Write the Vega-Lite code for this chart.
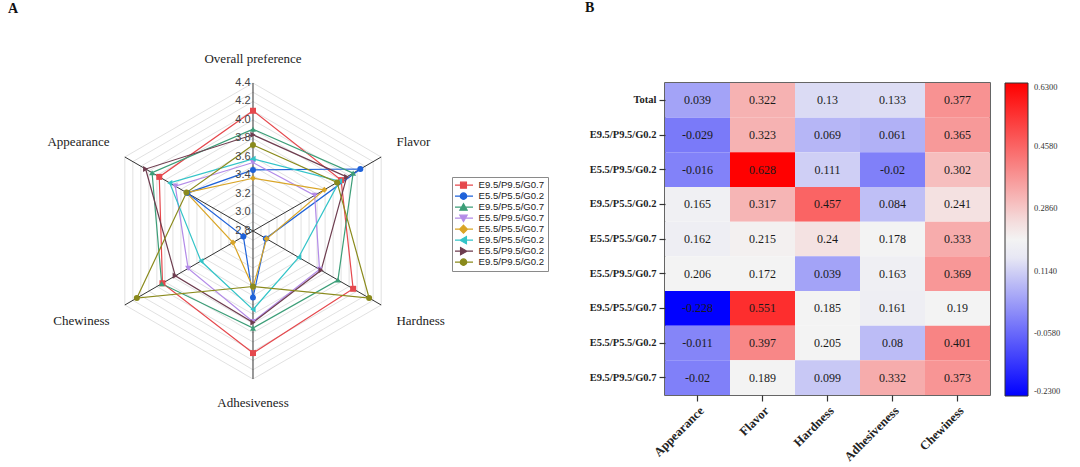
{
  "$schema": "https://vega.github.io/schema/vega-lite/v6.json",
  "padding": {"left": 0, "top": 0, "right": 5, "bottom": 5},
  "background": "white",
  "bounds": "flush",
  "spacing": 105,
  "config": {"view": {"stroke": null}, "font": "Liberation Serif"},
  "resolve": {"scale": {"color": "independent"}, "legend": {"color": "independent"}},
  "datasets": {
    "axes": [
      {"attr": "Overall preference"},
      {"attr": "Flavor"},
      {"attr": "Hardness"},
      {"attr": "Adhesiveness"},
      {"attr": "Chewiness"},
      {"attr": "Appearance"}
    ],
    "rings": [
      {"level": 2.9, "k": [0, 1, 2, 3, 4, 5]},
      {"level": 3.0, "k": [0, 1, 2, 3, 4, 5]},
      {"level": 3.1, "k": [0, 1, 2, 3, 4, 5]},
      {"level": 3.2, "k": [0, 1, 2, 3, 4, 5]},
      {"level": 3.3, "k": [0, 1, 2, 3, 4, 5]},
      {"level": 3.4, "k": [0, 1, 2, 3, 4, 5]},
      {"level": 3.5, "k": [0, 1, 2, 3, 4, 5]},
      {"level": 3.6, "k": [0, 1, 2, 3, 4, 5]},
      {"level": 3.7, "k": [0, 1, 2, 3, 4, 5]},
      {"level": 3.8, "k": [0, 1, 2, 3, 4, 5]},
      {"level": 3.9, "k": [0, 1, 2, 3, 4, 5]},
      {"level": 4.0, "k": [0, 1, 2, 3, 4, 5]},
      {"level": 4.1, "k": [0, 1, 2, 3, 4, 5]},
      {"level": 4.2, "k": [0, 1, 2, 3, 4, 5]},
      {"level": 4.3, "k": [0, 1, 2, 3, 4, 5]},
      {"level": 4.4, "k": [0, 1, 2, 3, 4, 5]}
    ],
    "ticks": [
      {"level": 2.8}, {"level": 3.0}, {"level": 3.2}, {"level": 3.4}, {"level": 3.6},
      {"level": 3.8}, {"level": 4.0}, {"level": 4.2}, {"level": 4.4}
    ],
    "series": [
      {"series": "E9.5/P9.5/G0.7", "attr": "Overall preference", "value": 4.10},
      {"series": "E9.5/P9.5/G0.7", "attr": "Flavor", "value": 3.90},
      {"series": "E9.5/P9.5/G0.7", "attr": "Hardness", "value": 4.05},
      {"series": "E9.5/P9.5/G0.7", "attr": "Adhesiveness", "value": 4.12},
      {"series": "E9.5/P9.5/G0.7", "attr": "Chewiness", "value": 3.93},
      {"series": "E9.5/P9.5/G0.7", "attr": "Appearance", "value": 3.97},
      {"series": "E5.5/P5.5/G0.2", "attr": "Overall preference", "value": 3.46},
      {"series": "E5.5/P5.5/G0.2", "attr": "Flavor", "value": 4.14},
      {"series": "E5.5/P5.5/G0.2", "attr": "Hardness", "value": 2.96},
      {"series": "E5.5/P5.5/G0.2", "attr": "Adhesiveness", "value": 3.52},
      {"series": "E5.5/P5.5/G0.2", "attr": "Chewiness", "value": 2.92},
      {"series": "E5.5/P5.5/G0.2", "attr": "Appearance", "value": 3.62},
      {"series": "E9.5/P5.5/G0.7", "attr": "Overall preference", "value": 3.90},
      {"series": "E9.5/P5.5/G0.7", "attr": "Flavor", "value": 4.05},
      {"series": "E9.5/P5.5/G0.7", "attr": "Hardness", "value": 3.86},
      {"series": "E9.5/P5.5/G0.7", "attr": "Adhesiveness", "value": 3.85},
      {"series": "E9.5/P5.5/G0.7", "attr": "Chewiness", "value": 3.94},
      {"series": "E9.5/P5.5/G0.7", "attr": "Appearance", "value": 4.06},
      {"series": "E5.5/P9.5/G0.7", "attr": "Overall preference", "value": 3.54},
      {"series": "E5.5/P9.5/G0.7", "attr": "Flavor", "value": 3.57},
      {"series": "E5.5/P9.5/G0.7", "attr": "Hardness", "value": 3.63},
      {"series": "E5.5/P9.5/G0.7", "attr": "Adhesiveness", "value": 3.78},
      {"series": "E5.5/P9.5/G0.7", "attr": "Chewiness", "value": 3.61},
      {"series": "E5.5/P9.5/G0.7", "attr": "Appearance", "value": 3.77},
      {"series": "E5.5/P5.5/G0.7", "attr": "Overall preference", "value": 3.37},
      {"series": "E5.5/P5.5/G0.7", "attr": "Flavor", "value": 3.69},
      {"series": "E5.5/P5.5/G0.7", "attr": "Hardness", "value": 2.97},
      {"series": "E5.5/P5.5/G0.7", "attr": "Adhesiveness", "value": 3.41},
      {"series": "E5.5/P5.5/G0.7", "attr": "Chewiness", "value": 3.05},
      {"series": "E5.5/P5.5/G0.7", "attr": "Appearance", "value": 3.63},
      {"series": "E9.5/P5.5/G0.2", "attr": "Overall preference", "value": 3.58},
      {"series": "E9.5/P5.5/G0.2", "attr": "Flavor", "value": 3.88},
      {"series": "E9.5/P5.5/G0.2", "attr": "Hardness", "value": 3.37},
      {"series": "E9.5/P5.5/G0.2", "attr": "Adhesiveness", "value": 3.65},
      {"series": "E9.5/P5.5/G0.2", "attr": "Chewiness", "value": 3.45},
      {"series": "E9.5/P5.5/G0.2", "attr": "Appearance", "value": 3.84},
      {"series": "E5.5/P9.5/G0.2", "attr": "Overall preference", "value": 3.84},
      {"series": "E5.5/P9.5/G0.2", "attr": "Flavor", "value": 3.97},
      {"series": "E5.5/P9.5/G0.2", "attr": "Hardness", "value": 3.65},
      {"series": "E5.5/P9.5/G0.2", "attr": "Adhesiveness", "value": 3.79},
      {"series": "E5.5/P9.5/G0.2", "attr": "Chewiness", "value": 3.77},
      {"series": "E5.5/P9.5/G0.2", "attr": "Appearance", "value": 4.14},
      {"series": "E9.5/P9.5/G0.2", "attr": "Overall preference", "value": 3.73},
      {"series": "E9.5/P9.5/G0.2", "attr": "Flavor", "value": 3.85},
      {"series": "E9.5/P9.5/G0.2", "attr": "Hardness", "value": 4.25},
      {"series": "E9.5/P9.5/G0.2", "attr": "Adhesiveness", "value": 3.40},
      {"series": "E9.5/P9.5/G0.2", "attr": "Chewiness", "value": 4.25},
      {"series": "E9.5/P9.5/G0.2", "attr": "Appearance", "value": 3.63}
    ],
    "heat": [
      {"group": "Total", "attr": "Appearance", "r": 0.039},
      {"group": "Total", "attr": "Flavor", "r": 0.322},
      {"group": "Total", "attr": "Hardness", "r": 0.13},
      {"group": "Total", "attr": "Adhesiveness", "r": 0.133},
      {"group": "Total", "attr": "Chewiness", "r": 0.377},
      {"group": "E9.5/P9.5/G0.2", "attr": "Appearance", "r": -0.029},
      {"group": "E9.5/P9.5/G0.2", "attr": "Flavor", "r": 0.323},
      {"group": "E9.5/P9.5/G0.2", "attr": "Hardness", "r": 0.069},
      {"group": "E9.5/P9.5/G0.2", "attr": "Adhesiveness", "r": 0.061},
      {"group": "E9.5/P9.5/G0.2", "attr": "Chewiness", "r": 0.365},
      {"group": "E5.5/P9.5/G0.2", "attr": "Appearance", "r": -0.016},
      {"group": "E5.5/P9.5/G0.2", "attr": "Flavor", "r": 0.628},
      {"group": "E5.5/P9.5/G0.2", "attr": "Hardness", "r": 0.111},
      {"group": "E5.5/P9.5/G0.2", "attr": "Adhesiveness", "r": -0.02},
      {"group": "E5.5/P9.5/G0.2", "attr": "Chewiness", "r": 0.302},
      {"group": "E9.5/P5.5/G0.2", "attr": "Appearance", "r": 0.165},
      {"group": "E9.5/P5.5/G0.2", "attr": "Flavor", "r": 0.317},
      {"group": "E9.5/P5.5/G0.2", "attr": "Hardness", "r": 0.457},
      {"group": "E9.5/P5.5/G0.2", "attr": "Adhesiveness", "r": 0.084},
      {"group": "E9.5/P5.5/G0.2", "attr": "Chewiness", "r": 0.241},
      {"group": "E5.5/P5.5/G0.7", "attr": "Appearance", "r": 0.162},
      {"group": "E5.5/P5.5/G0.7", "attr": "Flavor", "r": 0.215},
      {"group": "E5.5/P5.5/G0.7", "attr": "Hardness", "r": 0.24},
      {"group": "E5.5/P5.5/G0.7", "attr": "Adhesiveness", "r": 0.178},
      {"group": "E5.5/P5.5/G0.7", "attr": "Chewiness", "r": 0.333},
      {"group": "E5.5/P9.5/G0.7", "attr": "Appearance", "r": 0.206},
      {"group": "E5.5/P9.5/G0.7", "attr": "Flavor", "r": 0.172},
      {"group": "E5.5/P9.5/G0.7", "attr": "Hardness", "r": 0.039},
      {"group": "E5.5/P9.5/G0.7", "attr": "Adhesiveness", "r": 0.163},
      {"group": "E5.5/P9.5/G0.7", "attr": "Chewiness", "r": 0.369},
      {"group": "E9.5/P5.5/G0.7", "attr": "Appearance", "r": -0.228},
      {"group": "E9.5/P5.5/G0.7", "attr": "Flavor", "r": 0.551},
      {"group": "E9.5/P5.5/G0.7", "attr": "Hardness", "r": 0.185},
      {"group": "E9.5/P5.5/G0.7", "attr": "Adhesiveness", "r": 0.161},
      {"group": "E9.5/P5.5/G0.7", "attr": "Chewiness", "r": 0.19},
      {"group": "E5.5/P5.5/G0.2", "attr": "Appearance", "r": -0.011},
      {"group": "E5.5/P5.5/G0.2", "attr": "Flavor", "r": 0.397},
      {"group": "E5.5/P5.5/G0.2", "attr": "Hardness", "r": 0.205},
      {"group": "E5.5/P5.5/G0.2", "attr": "Adhesiveness", "r": 0.08},
      {"group": "E5.5/P5.5/G0.2", "attr": "Chewiness", "r": 0.401},
      {"group": "E9.5/P9.5/G0.7", "attr": "Appearance", "r": -0.02},
      {"group": "E9.5/P9.5/G0.7", "attr": "Flavor", "r": 0.189},
      {"group": "E9.5/P9.5/G0.7", "attr": "Hardness", "r": 0.099},
      {"group": "E9.5/P9.5/G0.7", "attr": "Adhesiveness", "r": 0.332},
      {"group": "E9.5/P9.5/G0.7", "attr": "Chewiness", "r": 0.373}
    ]
  },
  "hconcat": [
    {
      "title": {"text": "A", "anchor": "start", "frame": "group", "font": "Liberation Serif", "fontSize": 14, "fontWeight": "bold", "color": "#111", "offset": 37, "dx": 8},
      "width": 560,
      "height": 312,
      "layer": [
        {
          "data": {"name": "rings"},
          "transform": [
            {"flatten": ["k"]},
            {"calculate": "PI/2 - datum.k*PI/3", "as": "th"},
            {"calculate": "(datum.level-2.8)*cos(datum.th)", "as": "x"},
            {"calculate": "(datum.level-2.8)*sin(datum.th)", "as": "y"}
          ],
          "mark": {"type": "line", "interpolate": "linear-closed", "stroke": "#d9d9d9", "strokeWidth": 0.8},
          "encoding": {
            "x": {"field": "x", "type": "quantitative", "scale": {"domain": [-2.7351, 3.3189], "nice": false, "zero": false}, "axis": null},
            "y": {"field": "y", "type": "quantitative", "scale": {"domain": [-1.773, 1.6], "nice": false, "zero": false}, "axis": null},
            "detail": {"field": "level", "type": "nominal"},
            "order": {"field": "k", "type": "quantitative"}
          }
        },
        {
          "data": {"name": "axes"},
          "transform": [
            {"calculate": "indexof(['Overall preference','Flavor','Hardness','Adhesiveness','Chewiness','Appearance'], datum.attr)", "as": "idx"},
            {"calculate": "PI/2 - datum.idx*PI/3", "as": "th"},
            {"calculate": "1.6*cos(datum.th)", "as": "x"},
            {"calculate": "1.6*sin(datum.th)", "as": "y"}
          ],
          "mark": {"type": "rule", "stroke": "#333333", "strokeWidth": 1},
          "encoding": {
            "x": {"field": "x", "type": "quantitative", "scale": {"domain": [-2.7351, 3.3189], "nice": false, "zero": false}, "axis": null},
            "y": {"field": "y", "type": "quantitative", "scale": {"domain": [-1.773, 1.6], "nice": false, "zero": false}, "axis": null},
            "x2": {"datum": 0},
            "y2": {"datum": 0}
          }
        },
        {
          "data": {"name": "series"},
          "transform": [
            {"calculate": "indexof(['Overall preference','Flavor','Hardness','Adhesiveness','Chewiness','Appearance'], datum.attr)", "as": "idx"},
            {"calculate": "PI/2 - datum.idx*PI/3", "as": "th"},
            {"calculate": "(datum.value-2.8)*cos(datum.th)", "as": "x"},
            {"calculate": "(datum.value-2.8)*sin(datum.th)", "as": "y"}
          ],
          "mark": {"type": "line", "interpolate": "linear-closed", "strokeWidth": 1.2},
          "encoding": {
            "x": {"field": "x", "type": "quantitative", "scale": {"domain": [-2.7351, 3.3189], "nice": false, "zero": false}, "axis": null},
            "y": {"field": "y", "type": "quantitative", "scale": {"domain": [-1.773, 1.6], "nice": false, "zero": false}, "axis": null},
            "color": {"field": "series", "type": "nominal", "scale": {"domain": ["E9.5/P9.5/G0.7", "E5.5/P5.5/G0.2", "E9.5/P5.5/G0.7", "E5.5/P9.5/G0.7", "E5.5/P5.5/G0.7", "E9.5/P5.5/G0.2", "E5.5/P9.5/G0.2", "E9.5/P9.5/G0.2"], "range": ["#e5484d", "#1f62d9", "#3c9e78", "#b38be8", "#d9a527", "#33c4c8", "#6e3d4f", "#8a8a1c"]},
              "legend": {
                "title": null, "orient": "none", "legendX": 452, "legendY": 94,
                "strokeColor": "#8a8a8a", "fillColor": "white", "padding": 3,
                "labelFont": "Liberation Sans", "labelFontSize": 9.6, "labelColor": "#222222",
                "symbolSize": 100, "rowPadding": 0, "clipHeight": 10.3, "symbolOffset": 2.5, "labelOffset": 9,
                "encode": {
                  "symbols": {
                    "update": {
                      "shape": {"signal": "['M-1.9,0H1.9M-0.6,-0.6H0.6V0.6H-0.6Z','M-1.9,0H1.9M-0.65,0A0.65,0.65,0,1,1,0.65,0A0.65,0.65,0,1,1,-0.65,0Z','M-1.9,0H1.9M-0.75,0.6L0,-0.7L0.75,0.6Z','M-1.9,0H1.9M-0.75,-0.6L0,0.7L0.75,-0.6Z','M-1.9,0H1.9M0,-0.8L0.8,0L0,0.8L-0.8,0Z','M-1.9,0H1.9M0.6,-0.75L-0.7,0L0.6,0.75Z','M-1.9,0H1.9M-0.6,-0.75L0.7,0L-0.6,0.75Z','M-1.9,0H1.9M-0.65,0A0.65,0.65,0,1,1,0.65,0A0.65,0.65,0,1,1,-0.65,0Z'][indexof(['E9.5/P9.5/G0.7','E5.5/P5.5/G0.2','E9.5/P5.5/G0.7','E5.5/P9.5/G0.7','E5.5/P5.5/G0.7','E9.5/P5.5/G0.2','E5.5/P9.5/G0.2','E9.5/P9.5/G0.2'], datum.value)]"},
                      "stroke": {"signal": "['#e5484d','#1f62d9','#3c9e78','#b38be8','#d9a527','#33c4c8','#6e3d4f','#8a8a1c'][indexof(['E9.5/P9.5/G0.7','E5.5/P5.5/G0.2','E9.5/P5.5/G0.7','E5.5/P9.5/G0.7','E5.5/P5.5/G0.7','E9.5/P5.5/G0.2','E5.5/P9.5/G0.2','E9.5/P9.5/G0.2'], datum.value)]"},
                      "fill": {"signal": "['#e5484d','#1f62d9','#3c9e78','#b38be8','#d9a527','#33c4c8','#6e3d4f','#8a8a1c'][indexof(['E9.5/P9.5/G0.7','E5.5/P5.5/G0.2','E9.5/P5.5/G0.7','E5.5/P9.5/G0.7','E5.5/P5.5/G0.7','E9.5/P5.5/G0.2','E5.5/P9.5/G0.2','E9.5/P9.5/G0.2'], datum.value)]"},
                      "strokeWidth": {"value": 1.1},
                      "opacity": {"value": 1}
                    }
                  }
                }
              }
            },
            "order": {"field": "idx", "type": "quantitative"}
          }
        },
        {
          "data": {"name": "series"},
          "transform": [
            {"calculate": "indexof(['Overall preference','Flavor','Hardness','Adhesiveness','Chewiness','Appearance'], datum.attr)", "as": "idx"},
            {"calculate": "PI/2 - datum.idx*PI/3", "as": "th"},
            {"calculate": "(datum.value-2.8)*cos(datum.th)", "as": "x"},
            {"calculate": "(datum.value-2.8)*sin(datum.th)", "as": "y"}
          ],
          "mark": {"type": "point", "filled": true, "size": 36, "opacity": 1},
          "encoding": {
            "x": {"field": "x", "type": "quantitative", "scale": {"domain": [-2.7351, 3.3189], "nice": false, "zero": false}, "axis": null},
            "y": {"field": "y", "type": "quantitative", "scale": {"domain": [-1.773, 1.6], "nice": false, "zero": false}, "axis": null},
            "fill": {"field": "series", "type": "nominal", "scale": {"domain": ["E9.5/P9.5/G0.7", "E5.5/P5.5/G0.2", "E9.5/P5.5/G0.7", "E5.5/P9.5/G0.7", "E5.5/P5.5/G0.7", "E9.5/P5.5/G0.2", "E5.5/P9.5/G0.2", "E9.5/P9.5/G0.2"], "range": ["#e5484d", "#1f62d9", "#3c9e78", "#b38be8", "#d9a527", "#33c4c8", "#6e3d4f", "#8a8a1c"]}, "legend": null},
            "shape": {"field": "series", "type": "nominal", "scale": {"domain": ["E9.5/P9.5/G0.7", "E5.5/P5.5/G0.2", "E9.5/P5.5/G0.7", "E5.5/P9.5/G0.7", "E5.5/P5.5/G0.7", "E9.5/P5.5/G0.2", "E5.5/P9.5/G0.2", "E9.5/P9.5/G0.2"], "range": ["square", "circle", "triangle-up", "triangle-down", "diamond", "triangle-left", "triangle-right", "circle"]}, "legend": null}
          }
        },
        {
          "data": {"name": "ticks"},
          "transform": [{"calculate": "datum.level-2.8", "as": "y"}],
          "mark": {"type": "text", "align": "center", "baseline": "middle", "dx": -10, "font": "Liberation Sans", "fontSize": 11, "color": "#444444"},
          "encoding": {
            "x": {"datum": 0, "type": "quantitative", "scale": {"domain": [-2.7351, 3.3189], "nice": false, "zero": false}, "axis": null},
            "y": {"field": "y", "type": "quantitative", "scale": {"domain": [-1.773, 1.6], "nice": false, "zero": false}, "axis": null},
            "text": {"field": "level", "type": "quantitative", "format": ".1f"}
          }
        },
        {
          "data": {"name": "axes"},
          "transform": [
            {"calculate": "indexof(['Overall preference','Flavor','Hardness','Adhesiveness','Chewiness','Appearance'], datum.attr)", "as": "idx"},
            {"calculate": "PI/2 - datum.idx*PI/3", "as": "th"},
            {"calculate": "(datum.idx==0 || datum.idx==3) ? 0 : 1.6*cos(datum.th) + (cos(datum.th) > 0 ? 0.165 : -0.165)", "as": "x"},
            {"calculate": "datum.idx==0 ? 1.86 : datum.idx==3 ? -1.86 : 1.6*sin(datum.th) + (sin(datum.th) > 0 ? 0.162 : -0.173)", "as": "y"}
          ],
          "mark": {"type": "text", "baseline": "middle", "font": "Liberation Serif", "fontSize": 13, "color": "#222222", "align": {"expr": "datum.x > 0.01 ? 'left' : (datum.x < -0.01 ? 'right' : 'center')"}},
          "encoding": {
            "x": {"field": "x", "type": "quantitative", "scale": {"domain": [-2.7351, 3.3189], "nice": false, "zero": false}, "axis": null},
            "y": {"field": "y", "type": "quantitative", "scale": {"domain": [-1.773, 1.6], "nice": false, "zero": false}, "axis": null},
            "text": {"field": "attr", "type": "nominal"}
          }
        }
      ]
    },
    {
      "title": {"text": "B", "anchor": "start", "frame": "group", "font": "Liberation Serif", "fontSize": 14, "fontWeight": "bold", "color": "#111", "offset": 68, "dx": -80},
      "width": 325,
      "height": 312,
      "view": {"stroke": "#333333", "strokeWidth": 1.5},
      "data": {"name": "heat"},
      "encoding": {
        "x": {"field": "attr", "type": "nominal", "sort": ["Appearance", "Flavor", "Hardness", "Adhesiveness", "Chewiness"],
          "axis": {"title": null, "labelAngle": -45, "labelFont": "Liberation Serif", "labelFontWeight": "bold", "labelFontSize": 12.5, "labelColor": "#222222", "tickColor": "#333333", "tickSize": 6, "tickWidth": 1.2, "domain": false, "labelPadding": 3}},
        "y": {"field": "group", "type": "nominal", "sort": ["Total", "E9.5/P9.5/G0.2", "E5.5/P9.5/G0.2", "E9.5/P5.5/G0.2", "E5.5/P5.5/G0.7", "E5.5/P9.5/G0.7", "E9.5/P5.5/G0.7", "E5.5/P5.5/G0.2", "E9.5/P9.5/G0.7"],
          "axis": {"title": null, "labelFont": "Liberation Serif", "labelFontWeight": "bold", "labelFontSize": 10.5, "labelColor": "#222222", "tickColor": "#333333", "tickSize": 6, "tickWidth": 1.2, "domain": false, "labelPadding": 3}}
      },
      "layer": [
        {
          "mark": {"type": "rect"},
          "encoding": {
            "color": {"field": "r", "type": "quantitative",
              "scale": {"domain": [-0.23, 0.17, 0.21, 0.63], "range": ["#0000ff", "#f3f3f3", "#f3f3f3", "#ff0000"], "interpolate": "rgb"},
              "legend": {"title": null, "orient": "right", "offset": 15, "direction": "vertical", "gradientLength": 313, "gradientThickness": 23, "values": [-0.23, -0.058, 0.114, 0.286, 0.458, 0.63], "labelExpr": "replace(format(datum.value, '.4f'), '\u2212', '-')", "labelFont": "Liberation Serif", "labelFontSize": 8.5, "labelColor": "#333333", "labelOffset": 6, "gradientStrokeColor": "#333333", "gradientStrokeWidth": 1}}
          }
        },
        {
          "mark": {"type": "text", "font": "Liberation Serif", "fontSize": 12, "color": "#1a1a1a"},
          "encoding": {"text": {"field": "r", "type": "nominal"}}
        }
      ]
    }
  ]
}
